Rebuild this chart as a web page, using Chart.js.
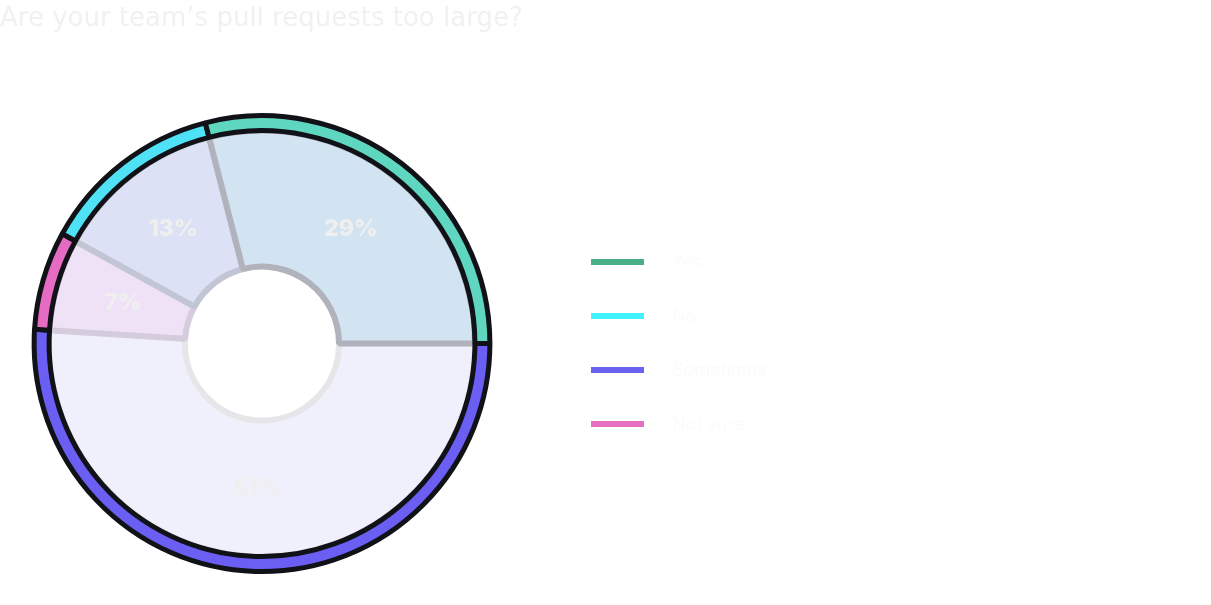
<!DOCTYPE html>
<html>
<head>
<meta charset="utf-8">
<script src="https://cdn.jsdelivr.net/npm/chart.js@4"></script>
<style>
  html, body { margin: 0; padding: 0; background: #fff; }
  #wrap { position: relative; width: 1211px; height: 605px; }
  #legend { position: absolute; left: 591px; top: 0; }
  .item { position: absolute; left: 0; width: 300px; height: 20px; }
  .item .swatch { position: absolute; left: 0; top: 7px; width: 53px; height: 6px; }
  .item .txt { position: absolute; left: 81px; top: 0; font: 18px Inter, sans-serif; color: #fbfbfb; line-height: 20px; white-space: nowrap; }
</style>
</head>
<body>
<div id="wrap">
  <canvas id="myChart" width="1211" height="605"></canvas>
  <div id="legend"></div>
</div>
<script>
/************** PR size survey ******/
var answers = ["Yes", "No", "Sometimes", "Not sure"];
var percents = [29, 13, 51, 7];
var bandColors = ["#5fd6c0", "#4fe2f7", "#6a5ff2", "#e56bc3"];
var fillColors = ["#d2e3f1", "#dde1f5", "#f0f0fc", "#efe2f6"];
var innerBorders = ["#b0b2bc", "#c2c6d4", "#e6e6e8", "#d4ccdc"];
var legendColors = ["#48af89", "#40f4ff", "#6a61f0", "#e66fc1"];
var legendY = [262, 316, 370, 424];

// clockwise from 3 o'clock: purple, pink, cyan, green
var ringOrder = [2, 3, 1, 0];
function pick(arr) { return ringOrder.map(function (i) { return arr[i]; }); }

var pctLabels = {
  id: "pctLabels",
  afterDatasetsDraw: function (chart) {
    var ctx = chart.ctx;
    var meta = chart.getDatasetMeta(1);
    var vals = pick(percents);
    ctx.save();
    ctx.font = "800 23px Inter, sans-serif";
    ctx.fillStyle = "#efefef";
    ctx.textAlign = "center";
    ctx.textBaseline = "middle";
    meta.data.forEach(function (arc, i) {
      var p = arc.tooltipPosition();
      ctx.fillText(vals[i] + "%", p.x, p.y);
    });
    ctx.restore();
  }
};

new Chart("myChart", {
  type: "doughnut",
  data: {
    labels: pick(answers),
    datasets: [{
      data: pick(percents),
      backgroundColor: pick(bandColors),
      borderColor: "#111118",
      borderWidth: 5,
      weight: 15
    }, {
      data: pick(percents),
      backgroundColor: pick(fillColors),
      borderColor: pick(innerBorders),
      borderWidth: 6,
      weight: 136
    }]
  },
  options: {
    responsive: false,
    animation: false,
    rotation: 90,
    cutout: 77,
    layout: { padding: { top: 3, left: 0, right: 687, bottom: 31 } },
    plugins: {
      legend: { display: false },
      tooltip: { enabled: false },
      title: {
        display: true,
        text: "Are your team\u2019s pull requests too large?",
        align: "start",
        color: "#f1f1f1",
        font: { family: "'DejaVu Sans', sans-serif", size: 26, weight: "400" },
        padding: { top: 1, bottom: 78 }
      }
    }
  },
  plugins: [pctLabels]
});

// legend
var legend = document.getElementById("legend");
answers.forEach(function (a, i) {
  var row = document.createElement("div");
  row.className = "item";
  row.style.top = (legendY[i] - 10) + "px";
  row.innerHTML = '<div class="swatch" style="background:' + legendColors[i] + '"></div><div class="txt">' + a + '</div>';
  legend.appendChild(row);
});
</script>
</body>
</html>
